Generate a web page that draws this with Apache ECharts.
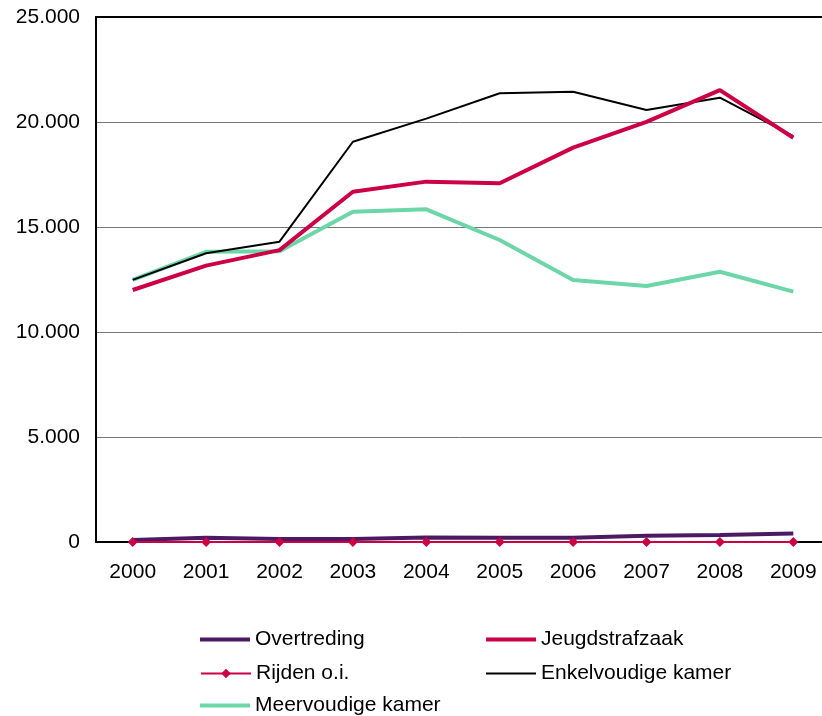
<!DOCTYPE html>
<html>
<head>
<meta charset="utf-8">
<script src="https://cdn.jsdelivr.net/npm/echarts@6/dist/echarts.min.js"></script>
<style>html,body{margin:0;padding:0;background:#fff}#c{width:822px;height:716px}</style>
</head>
<body>
<div id="c"></div>
<script>
var years = ['2000','2001','2002','2003','2004','2005','2006','2007','2008','2009'];
var overtreding = [100, 200, 140, 140, 220, 200, 200, 300, 330, 410];
var jeugdstrafzaak = [12000, 13160, 13900, 16680, 17160, 17080, 18780, 20010, 21520, 19250];
var rijden = [0, 0, 0, 0, 0, 0, 0, 0, 0, 0];
var enkelvoudig = [12480, 13750, 14300, 19060, 20160, 21370, 21440, 20570, 21160, 19330];
var meervoudig = [12480, 13820, 13840, 15730, 15840, 14380, 12480, 12190, 12870, 11920];
var yTicks = [0, 5000, 10000, 15000, 20000, 25000];

var font = "'Liberation Sans', Arial, sans-serif";
var chart = echarts.init(document.getElementById('c'));
function fmt(v){ return String(v).replace(/\B(?=(\d{3})+(?!\d))/g, '.'); }

var txt = { color: '#000', fontSize: 21, fontFamily: font };
function leg(name, left, top, h, icon) {
  var o = { left: left, top: top, itemWidth: 50, itemHeight: h, textStyle: txt, data: [name] };
  if (icon) o.icon = icon;
  return o;
}

chart.setOption({
  animation: false,
  grid: { left: 96, top: 17, width: 734, height: 525, outerBoundsMode: 'none', containLabel: false },
  xAxis: [{
    type: 'category', data: years, boundaryGap: true,
    axisLine: { lineStyle: { color: '#000', width: 2 } },
    axisTick: { show: false },
    axisLabel: { color: '#000', fontSize: 21, fontFamily: font, margin: 20 }
  }, {
    type: 'category', data: years, position: 'top', boundaryGap: true,
    axisLine: { show: true, lineStyle: { color: '#000', width: 2 } },
    axisTick: { show: false }, axisLabel: { show: false }, splitLine: { show: false }
  }],
  yAxis: {
    type: 'value', min: yTicks[0], max: yTicks[yTicks.length-1], interval: 5000,
    axisLine: { show: true, lineStyle: { color: '#000', width: 2 } },
    axisTick: { show: false },
    splitLine: { lineStyle: { color: '#777', width: 1 } },
    axisLabel: { color: '#000', fontSize: 21, fontFamily: font, margin: 16, formatter: fmt }
  },
  legend: [
    leg('Overtreding', 195, 624, 4, 'rect'),
    leg('Rijden o.i.', 195, 658, 12, null),
    leg('Meervoudige kamer', 195, 690, 4, 'rect'),
    leg('Jeugdstrafzaak', 481, 624, 4, 'rect'),
    leg('Enkelvoudige kamer', 481, 658, 2, 'rect')
  ],
  series: [
    { name: 'Meervoudige kamer', type: 'line', data: meervoudig, symbol: 'none', z: 2,
      lineStyle: { color: '#6dd6a9', width: 4 }, itemStyle: { color: '#6dd6a9' } },
    { name: 'Enkelvoudige kamer', type: 'line', data: enkelvoudig, symbol: 'none', z: 3,
      lineStyle: { color: '#000', width: 2 }, itemStyle: { color: '#000' } },
    { name: 'Jeugdstrafzaak', type: 'line', data: jeugdstrafzaak, symbol: 'none', z: 4,
      lineStyle: { color: '#cc0044', width: 4 }, itemStyle: { color: '#cc0044' } },
    { name: 'Overtreding', type: 'line', data: overtreding, symbol: 'none', z: 4,
      lineStyle: { color: '#4b1a63', width: 4 }, itemStyle: { color: '#4b1a63' } },
    { name: 'Rijden o.i.', type: 'line', data: rijden, symbol: 'diamond', symbolSize: 10, z: 5,
      lineStyle: { color: '#cc0044', width: 2 }, itemStyle: { color: '#cc0044' } }
  ]
});
</script>
</body>
</html>
